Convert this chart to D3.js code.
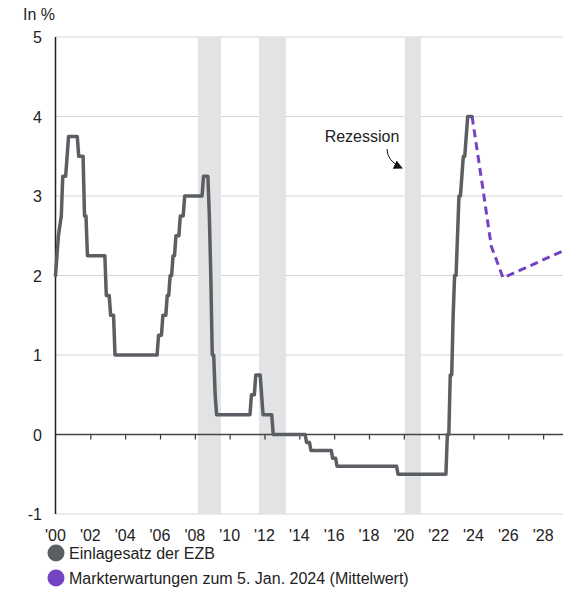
<!DOCTYPE html>
<html>
<head>
<meta charset="utf-8">
<script src="https://cdn.jsdelivr.net/npm/d3@7"></script>
<style>
  html, body { margin: 0; padding: 0; background: #fff; }
  svg { display: block; font-family: "Liberation Sans", Arial, sans-serif; }
</style>
</head>
<body>
<svg id="chart" width="563" height="593"></svg>
<script>
// ECB deposit facility rate (monthly, "YYYY-MM")
const rateDates = [
  "2000-01","2000-02","2000-03","2000-05","2000-06","2000-08","2000-09","2000-10",
  "2001-04","2001-05","2001-08","2001-09","2001-10","2001-11",
  "2002-11","2002-12","2003-02","2003-03","2003-05","2003-06",
  "2005-11","2005-12","2006-02","2006-03","2006-05","2006-06","2006-07","2006-08",
  "2006-09","2006-10","2006-11","2006-12","2007-02","2007-03","2007-05","2007-06",
  "2008-06","2008-07","2008-10","2008-11","2008-12","2009-01","2009-02","2009-03","2009-04",
  "2011-03","2011-04","2011-06","2011-07","2011-10","2011-11","2011-12",
  "2012-06","2012-07","2014-05","2014-06","2014-08","2014-09",
  "2015-11","2015-12","2016-02","2016-03","2019-08","2019-09",
  "2022-06","2022-07","2022-08","2022-09","2022-10","2022-11","2022-12",
  "2023-01","2023-02","2023-03","2023-04","2023-05","2023-06","2023-07","2023-08","2023-09","2023-12"
];
const rateValues = [
  2.00,2.25,2.50,2.75,3.25,3.25,3.50,3.75,
  3.75,3.50,3.50,2.75,2.75,2.25,
  2.25,1.75,1.75,1.50,1.50,1.00,
  1.00,1.25,1.25,1.50,1.50,1.75,1.75,2.00,
  2.00,2.25,2.25,2.50,2.50,2.75,2.75,3.00,
  3.00,3.25,3.25,2.75,2.00,1.00,1.00,0.50,0.25,
  0.25,0.50,0.50,0.75,0.75,0.50,0.25,
  0.25,0.00,0.00,-0.10,-0.10,-0.20,
  -0.20,-0.30,-0.30,-0.40,-0.40,-0.50,
  -0.50,0.00,0.00,0.75,0.75,1.50,2.00,
  2.00,2.50,3.00,3.00,3.25,3.50,3.50,3.75,4.00,4.00
];

// Market expectations as of 5 Jan 2024 (median)
const expectYears = [2023.92, 2024.5, 2025.02, 2025.7, 2029.15];
const expectValues = [4.00, 3.15, 2.37, 1.97, 2.31];

// Recession periods (decimal years)
const recessionStart = [2008.18, 2011.68, 2020.06];
const recessionEnd   = [2009.50, 2013.23, 2020.98];

const yTicks = [-1, 0, 1, 2, 3, 4, 5];
const xTickYears = d3.range(2000, 2029, 2);
const xTickLabels = xTickYears.map(yr => "'" + String(yr).slice(2));

const legendLabels = ["Einlagesatz der EZB", "Markterwartungen zum 5. Jan. 2024 (Mittelwert)"];
const legendColors = ["#5b5e62", "#7443c2"];

const toYear = s => { const [yr, m] = s.split("-").map(Number); return yr + (m - 1) / 12; };
const actual = rateDates.map((d, i) => ({ t: toYear(d), v: rateValues[i] }));
const expected = expectYears.map((t, i) => ({ t, v: expectValues[i] }));

const svg = d3.select("#chart");
const plotLeft = 55.5, plotRight = 563, plotTop = 37, plotBottom = 514;
const fontSize = 16, textColor = "#222";

const x = d3.scaleLinear().domain([2000, 2029.14]).range([plotLeft, plotRight]);
const y = d3.scaleLinear().domain([-1, 5]).range([plotBottom, plotTop]);

// Horizontal gridlines
svg.append("g").selectAll("line")
  .data(yTicks.filter(v => v !== 0))
  .join("line")
  .attr("x1", plotLeft).attr("x2", plotRight)
  .attr("y1", d => y(d)).attr("y2", d => y(d))
  .attr("stroke", "#d6d6d6").attr("stroke-width", 1.2);

// Recession bands
svg.append("g").selectAll("rect")
  .data(recessionStart.map((s, i) => [s, recessionEnd[i]]))
  .join("rect")
  .attr("x", d => x(d[0])).attr("width", d => x(d[1]) - x(d[0]))
  .attr("y", plotTop).attr("height", plotBottom - plotTop)
  .attr("fill", "#e2e3e5");

// Zero line with ticks
const xAxis = d3.axisBottom(x).tickValues(xTickYears.filter(d => d > 2000))
  .tickSize(5).tickFormat("");
const xa = svg.append("g").attr("transform", `translate(0,${y(0)})`).call(xAxis);
xa.select(".domain").remove();
xa.selectAll(".tick line").attr("stroke", "#333").attr("stroke-width", 1.2);
svg.append("line").attr("x1", plotLeft).attr("x2", plotRight)
  .attr("y1", y(0)).attr("y2", y(0)).attr("stroke", "#444").attr("stroke-width", 1.5);

// Left axis line
svg.append("line").attr("x1", plotLeft).attr("x2", plotLeft)
  .attr("y1", plotTop).attr("y2", plotBottom).attr("stroke", "#222").attr("stroke-width", 1.5);

// Y tick labels
svg.append("g").selectAll("text")
  .data(yTicks).join("text")
  .attr("x", 42).attr("y", d => y(d) + 6)
  .attr("text-anchor", "end").attr("font-size", fontSize).attr("fill", textColor)
  .text(d => d);

svg.append("text").attr("x", 23).attr("y", 20)
  .attr("font-size", fontSize).attr("fill", textColor).text("In %");

// X tick labels
svg.append("g").selectAll("text")
  .data(xTickYears).join("text")
  .attr("x", d => x(d)).attr("y", 541)
  .attr("text-anchor", "middle").attr("font-size", fontSize).attr("fill", textColor)
  .text((d, i) => xTickLabels[i]);

// Lines
const line = d3.line().x(d => x(d.t)).y(d => y(d.v));
svg.append("path").datum(actual)
  .attr("d", line).attr("fill", "none")
  .attr("stroke", legendColors[0]).attr("stroke-width", 3.5)
  .attr("stroke-linejoin", "round").attr("stroke-linecap", "round");
svg.append("path").datum(expected)
  .attr("d", line).attr("fill", "none")
  .attr("stroke", legendColors[1]).attr("stroke-width", 3)
  .attr("stroke-dasharray", "8,5");

// Recession annotation
const defs = svg.append("defs");
defs.append("marker").attr("id", "arrowhead")
  .attr("viewBox", "0 0 10 10").attr("refX", 9).attr("refY", 5)
  .attr("markerWidth", 9).attr("markerHeight", 9)
  .attr("markerUnits", "userSpaceOnUse").attr("orient", "auto")
  .append("path").attr("d", "M0,0 L10,5 L0,10 Z").attr("fill", "#111");
svg.append("text").attr("x", 362).attr("y", 142)
  .attr("text-anchor", "middle").attr("font-size", fontSize).attr("fill", textColor)
  .text("Rezession");
svg.append("path").attr("d", "M387,149 Q387,161 402,168")
  .attr("fill", "none").attr("stroke", "#111").attr("stroke-width", 1)
  .attr("marker-end", "url(#arrowhead)");

// Legend
const lg = svg.append("g").selectAll("g").data(legendLabels).join("g")
  .attr("transform", (d, i) => `translate(0,${553 + i * 25})`);
lg.append("circle").attr("cx", 56).attr("cy", 0).attr("r", 8.5)
  .attr("fill", (d, i) => legendColors[i]);
lg.append("text").attr("x", 69).attr("y", 6)
  .attr("font-size", fontSize).attr("fill", textColor).text(d => d);
</script>
</body>
</html>
